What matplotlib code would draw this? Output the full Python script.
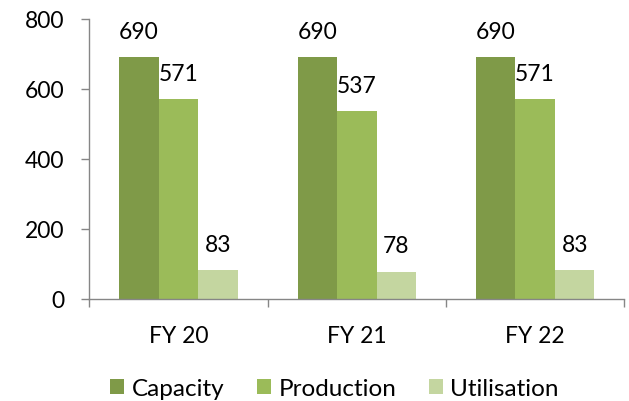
import numpy as np
import matplotlib.pyplot as plt
from matplotlib.patches import Patch

# data
years = ["FY 20", "FY 21", "FY 22"]
capacity = [690, 690, 690]
production = [571, 537, 571]
utilisation = [83, 78, 83]

series_names = ["Capacity", "Production", "Utilisation"]
colors = ["#7F9A48", "#9BBB59", "#C4D6A0"]

plt.rcParams['font.family'] = ['Lato', 'DejaVu Sans']
fs = 16.5

fig = plt.figure(figsize=(6.29, 4.02), dpi=100)
ax = fig.add_axes([89.3 / 629, 1 - 300 / 402, 535 / 629, 280 / 402])

x = np.arange(len(years))
w = 0.2215
for i, vals in enumerate([capacity, production, utilisation]):
    bars = ax.bar(x + (i - 1) * w, vals, width=w, color=colors[i], linewidth=0)
    for b, v in zip(bars, vals):
        ax.annotate(str(v), (b.get_x() + b.get_width() / 2, v),
                    xytext=(0, 11), textcoords="offset points",
                    ha="center", va="bottom", fontsize=fs)

ax.set_xlim(-0.5, len(years) - 0.5)
ax.set_ylim(0, 800)
ax.set_yticks(range(0, 801, 200))

# ticks between groups, labels at group centres
ax.set_xticks(np.arange(-0.5, len(years), 1.0))
ax.set_xticklabels([])
ax.set_xticks(x, minor=True)
ax.set_xticklabels(years, minor=True)
ax.tick_params(axis="x", which="minor", length=0, pad=19, labelsize=fs)
ax.tick_params(axis="x", which="major", length=5.8, width=1, color="#868686")
ax.tick_params(axis="y", length=5.8, width=1, color="#868686", pad=12, labelsize=fs)

for s in ["top", "right"]:
    ax.spines[s].set_visible(False)
for s in ["left", "bottom"]:
    ax.spines[s].set_color("#868686")
    ax.spines[s].set_linewidth(1)

handles = [Patch(facecolor=c, edgecolor="none") for c in colors]
fig.legend(handles, series_names, loc="center", ncol=3,
           bbox_to_anchor=(334.5 / 629, 1 - 390 / 402), frameon=False,
           fontsize=17.5, handlelength=0.58, handleheight=0.58,
           handletextpad=0.3, columnspacing=1.35, borderpad=0)

fig.savefig("out.png", dpi=100)
